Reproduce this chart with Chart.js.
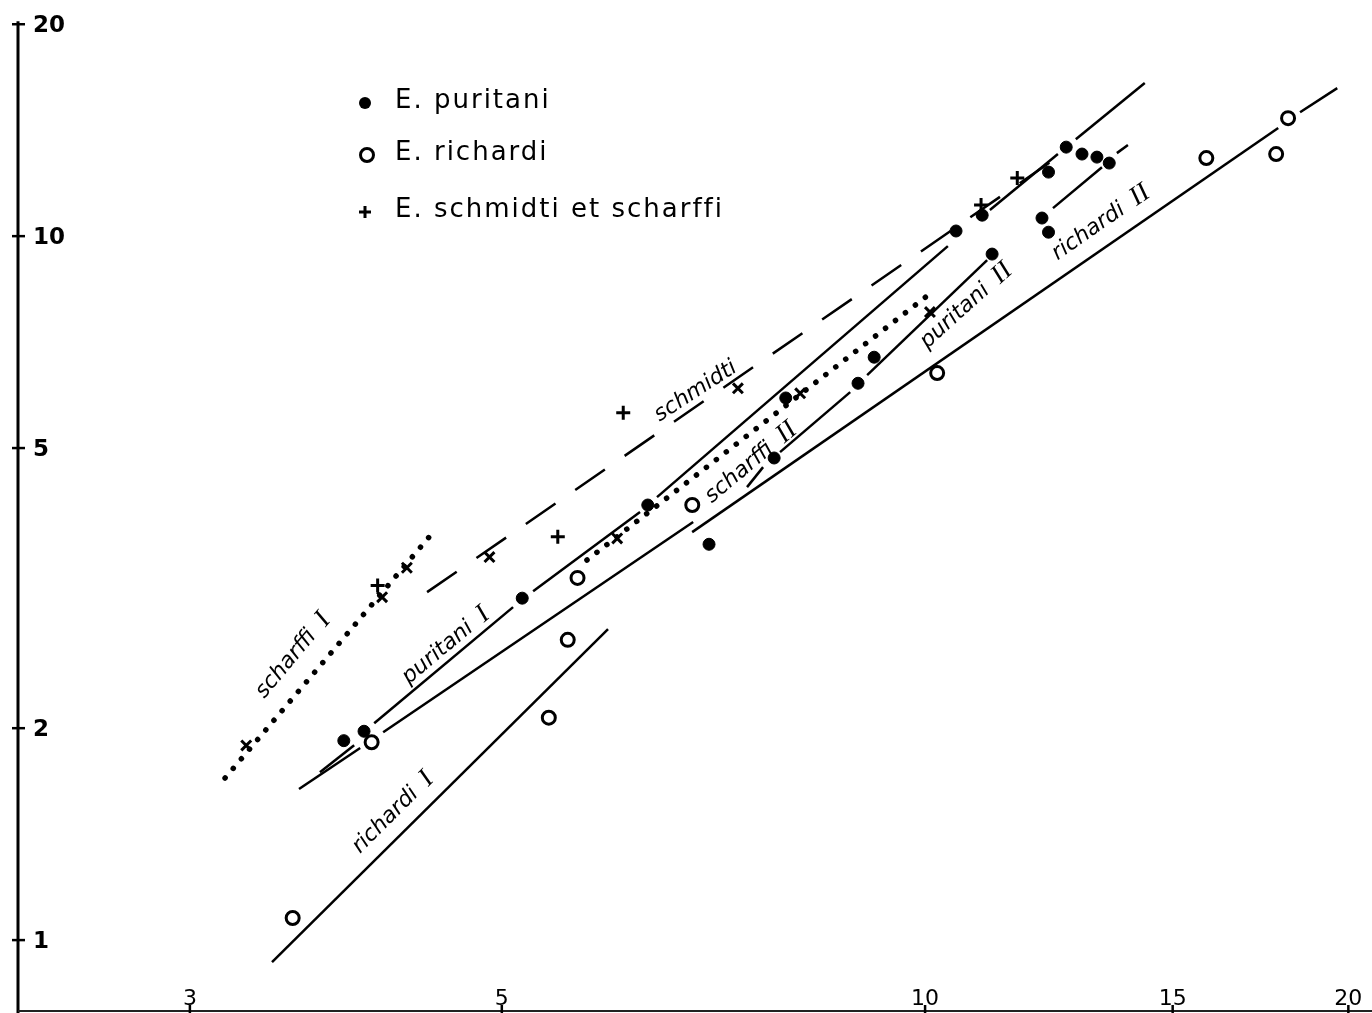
<!DOCTYPE html>
<html>
<head>
<meta charset="utf-8">
<script src="https://cdn.jsdelivr.net/npm/chart.js@4/dist/chart.umd.min.js"></script>
<style>
  html, body { margin: 0; padding: 0; background: #fff; overflow: hidden; }
  canvas { display: block; }
</style>
</head>
<body>
<canvas id="c" width="1372" height="1013"></canvas>
<script>
// ---- observations (x, y) ----
const puritani = [
  [3.86, 1.92], [3.99, 1.98], [5.17, 3.06], [6.35, 4.15], [7.02, 3.65],
  [7.81, 4.84], [7.96, 5.89], [8.96, 6.18], [9.20, 6.73], [10.52, 10.17],
  [10.98, 10.71], [11.16, 9.43], [12.11, 10.61], [12.24, 10.13], [12.24, 12.33],
  [12.60, 13.38], [12.93, 13.08], [13.25, 12.95], [13.52, 12.70]
];
const richardi = [
  [3.55, 1.075], [4.04, 1.91], [5.40, 2.07], [5.57, 2.67], [5.66, 3.27],
  [6.83, 4.15], [10.20, 6.39], [15.85, 12.91], [17.77, 13.08], [18.12, 14.71]
];
const schmidtiScharffi = [
  [3.29, 1.89], [4.08, 3.19], [4.11, 3.07], [4.28, 3.38], [4.90, 3.50],
  [5.48, 3.74], [6.04, 3.72], [6.10, 5.61], [7.36, 6.08], [8.15, 5.98],
  [10.08, 7.80], [10.96, 11.07], [11.63, 12.09]
];
const crossShapes = [
  'crossRot', 'cross', 'crossRot', 'crossRot', 'crossRot',
  'cross', 'crossRot', 'cross', 'crossRot', 'crossRot',
  'crossRot', 'cross', 'cross'
];

// ---- fitted lines: list of segments [[x1, y1], [x2, y2]] ----
const scharffiI = [[[3.178, 1.699], [4.488, 3.836]]];
const scharffiII = [[[5.748, 3.466], [10.05, 8.245]]];
const schmidti = [[[4.424, 3.121], [12.48, 13.03]]];
const puritaniI = [
  [[3.712, 1.732], [3.926, 1.892]],
  [[4.057, 2.033], [5.093, 2.972]],
  [[5.263, 3.131], [6.270, 4.055]],
  [[6.447, 4.258], [10.38, 9.68]],
  [[11.12, 10.89], [12.43, 13.08]],
  [[12.80, 13.73], [14.33, 16.50]]
];
const puritaniII = [
  [[7.471, 4.400], [7.670, 4.698]],
  [[7.886, 4.934], [8.846, 6.003]],
  [[9.095, 6.347], [11.07, 9.245]],
  [[12.33, 10.96], [13.36, 12.53]],
  [[13.69, 13.12], [13.94, 13.47]]
];
const richardiMid = [
  [[3.587, 1.639], [3.965, 1.874]],
  [[4.117, 1.974], [6.840, 3.926]]
];
const richardiI = [[[3.432, 0.9306], [5.950, 2.766]]];
const richardiII = [
  [[6.829, 3.798], [17.83, 14.24]],
  [[18.48, 15.00], [19.64, 16.23]]
];

// ---- line captions: [name, numeral, x, y, angle in degrees] ----
const lineCaptions = [
  ['scharffi', 'I', 3.546, 2.541, -50],
  ['puritani', 'I', 4.556, 2.625, -40],
  ['richardi', 'I', 4.177, 1.520, -45],
  ['schmidti', '', 6.862, 6.04, -33],
  ['scharffi', 'II', 7.508, 4.775, -40],
  ['puritani', 'II', 10.68, 7.98, -42],
  ['richardi', 'II', 13.32, 10.47, -35]
];

// ---- axes ----
const xTicks = [3, 5, 10, 15, 20];
const yTicks = [1, 2, 5, 10, 20];
const xRange = [2.264, 20.79];
const yRange = [0.793, 21.65];

const legendLabels = ['E. puritani', 'E. richardi', 'E. schmidti et scharffi'];

const toXY = arr => arr.map(p => ({ x: p[0], y: p[1] }));

function segmentSets(segs, style) {
  return segs.map(s => Object.assign({
    data: toXY(s),
    showLine: true,
    pointRadius: 0,
    borderColor: '#000',
    borderWidth: 2.5,
    fill: false,
    order: 2
  }, style));
}

const dotted = { borderDash: [0.1, 12.5], borderCapStyle: 'round', borderWidth: 5.5 };
const dashed = { borderDash: [36, 24], borderWidth: 2.5 };
const solid = { borderWidth: 2.5 };

const datasets = [
  {
    label: 'E. puritani', data: toXY(puritani), pointStyle: 'circle',
    pointRadius: 6, backgroundColor: '#000', borderColor: '#000', borderWidth: 1, order: 0
  },
  {
    label: 'E. richardi', data: toXY(richardi), pointStyle: 'circle',
    pointRadius: 6.5, backgroundColor: '#fff', borderColor: '#000', borderWidth: 3, order: 0
  },
  {
    label: 'E. schmidti et scharffi', data: toXY(schmidtiScharffi), pointStyle: crossShapes,
    pointRadius: 7, backgroundColor: '#000', borderColor: '#000', borderWidth: 3, order: 0
  },
  ...segmentSets(scharffiI, dotted),
  ...segmentSets(scharffiII, dotted),
  ...segmentSets(schmidti, dashed),
  ...segmentSets(puritaniI, solid),
  ...segmentSets(puritaniII, solid),
  ...segmentSets(richardiMid, solid),
  ...segmentSets(richardiI, solid),
  ...segmentSets(richardiII, solid)
];

const SANS = '"DejaVu Sans", "Liberation Sans", sans-serif';
const SERIF = '"Liberation Serif", "DejaVu Serif", serif';

// axes, ticks and tick labels drawn along the chart's scales
const axesPlugin = {
  id: 'axesPlugin',
  beforeDatasetsDraw(chart) {
    const { ctx, chartArea: a, scales: { x, y } } = chart;
    ctx.save();
    ctx.strokeStyle = '#000';
    ctx.fillStyle = '#000';
    // vertical axis
    ctx.lineWidth = 3;
    ctx.beginPath();
    ctx.moveTo(a.left, y.getPixelForValue(20) - 3);
    ctx.lineTo(a.left, chart.height);
    ctx.stroke();
    // horizontal axis
    ctx.lineWidth = 1.8;
    ctx.strokeStyle = '#222';
    ctx.beginPath();
    ctx.moveTo(a.left, a.bottom);
    ctx.lineTo(a.right, a.bottom);
    ctx.stroke();
    ctx.strokeStyle = '#000';
    // y ticks and labels
    ctx.font = 'bold 23px ' + SANS;
    ctx.textAlign = 'left';
    ctx.textBaseline = 'middle';
    yTicks.forEach(v => {
      const py = y.getPixelForValue(v);
      ctx.lineWidth = 2.5;
      ctx.beginPath();
      ctx.moveTo(a.left - 6, py);
      ctx.lineTo(a.left + 7, py);
      ctx.stroke();
      ctx.fillText(String(v), a.left + 15, py + 2);
    });
    // x ticks and labels
    ctx.font = '22px ' + SANS;
    ctx.textAlign = 'center';
    ctx.textBaseline = 'alphabetic';
    xTicks.forEach(v => {
      const px = x.getPixelForValue(v);
      ctx.lineWidth = 2.5;
      ctx.beginPath();
      ctx.moveTo(px, a.bottom - 6);
      ctx.lineTo(px, a.bottom + 2);
      ctx.stroke();
      ctx.fillText(String(v), px, a.bottom - 6);
    });
    ctx.restore();
  }
};

// captions written along the fitted lines
const captionPlugin = {
  id: 'captionPlugin',
  afterDatasetsDraw(chart) {
    const { ctx, scales: { x, y } } = chart;
    ctx.save();
    ctx.fillStyle = '#000';
    ctx.textBaseline = 'alphabetic';
    ctx.textAlign = 'left';
    lineCaptions.forEach(([name, num, vx, vy, ang]) => {
      const cx = x.getPixelForValue(vx);
      const cy = y.getPixelForValue(vy);
      const nameFont = 'italic 22px ' + SANS;
      const numFont = 'italic 27px ' + SERIF;
      ctx.font = nameFont;
      const w1 = ctx.measureText(name).width;
      ctx.font = numFont;
      const w2 = num ? ctx.measureText(num).width : 0;
      const gap = num ? 12 : 0;
      const total = w1 + gap + w2;
      ctx.save();
      ctx.translate(cx, cy);
      ctx.rotate(ang * Math.PI / 180);
      ctx.font = nameFont;
      ctx.fillText(name, -total / 2, 7);
      if (num) {
        ctx.font = numFont;
        ctx.fillText(num, -total / 2 + w1 + gap, 8);
      }
      ctx.restore();
    });
    ctx.restore();
  }
};

// key in the upper-left part of the plot
const keyPlugin = {
  id: 'keyPlugin',
  afterDraw(chart) {
    const { ctx } = chart;
    const mx = 365, tx = 395, rows = [103, 155, 212];
    ctx.save();
    ctx.fillStyle = '#000';
    ctx.strokeStyle = '#000';
    // markers
    ctx.beginPath();
    ctx.arc(mx, rows[0], 6, 0, Math.PI * 2);
    ctx.fill();
    ctx.lineWidth = 3;
    ctx.beginPath();
    ctx.arc(mx + 2, rows[1], 6.5, 0, Math.PI * 2);
    ctx.stroke();
    ctx.lineWidth = 3;
    ctx.beginPath();
    ctx.moveTo(mx - 6, rows[2]); ctx.lineTo(mx + 6, rows[2]);
    ctx.moveTo(mx, rows[2] - 6); ctx.lineTo(mx, rows[2] + 6);
    ctx.stroke();
    // texts
    ctx.font = '26px ' + SANS;
    if ('letterSpacing' in ctx) ctx.letterSpacing = '2px';
    ctx.textAlign = 'left';
    ctx.textBaseline = 'middle';
    legendLabels.forEach((t, i) => ctx.fillText(t, tx, rows[i] - 2));
    ctx.restore();
  }
};

new Chart(document.getElementById('c'), {
  type: 'scatter',
  data: { datasets },
  options: {
    responsive: false,
    animation: false,
    devicePixelRatio: 1,
    events: [],
    layout: { autoPadding: false, padding: { left: 18, right: 0, top: 0, bottom: 2 } },
    plugins: { legend: { display: false }, tooltip: { enabled: false } },
    scales: {
      x: { type: 'logarithmic', min: xRange[0], max: xRange[1], display: false },
      y: { type: 'logarithmic', min: yRange[0], max: yRange[1], display: false }
    }
  },
  plugins: [axesPlugin, captionPlugin, keyPlugin]
});
</script>
</body>
</html>
